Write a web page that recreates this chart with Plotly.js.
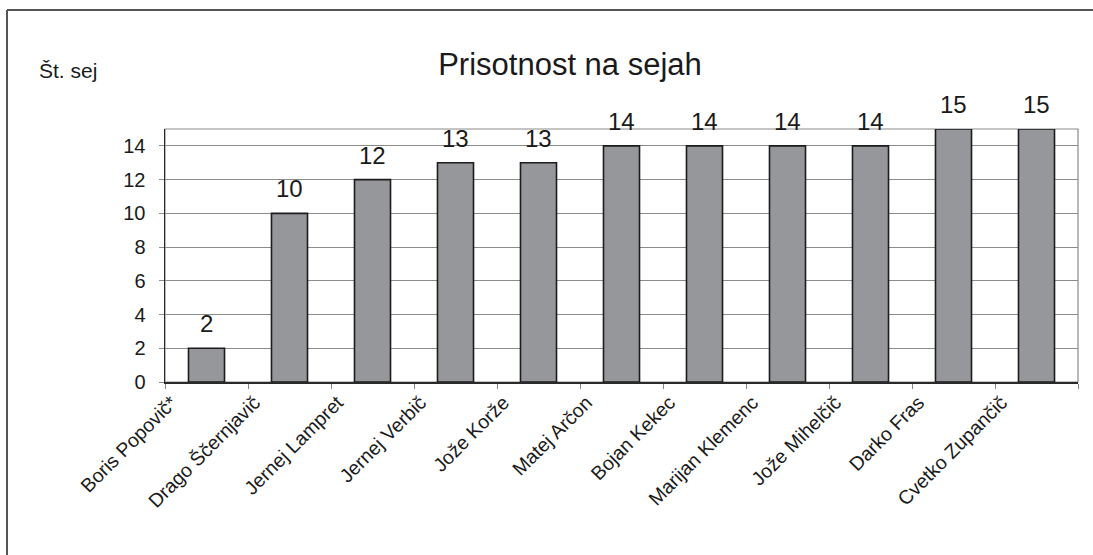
<!DOCTYPE html>
<html>
<head>
<meta charset="utf-8">
<script src="https://cdn.plot.ly/plotly-3.0.1.min.js"></script>
<style>
  html, body { margin: 0; padding: 0; background: #fff; }
  #chart { width: 1093px; height: 555px; }
</style>
</head>
<body>
<div id="chart"></div>
<script>
const members = [
  "Boris Popovič*", "Drago Ščernjavič", "Jernej Lampret", "Jernej Verbič",
  "Jože Korže", "Matej Arčon", "Bojan Kekec", "Marijan Klemenc",
  "Jože Mihelčič", "Darko Fras", "Cvetko Zupančič"
];
const sessions = [2, 10, 12, 13, 13, 14, 14, 14, 14, 15, 15];
const chartTitle = "Prisotnost na sejah";
const yAxisLabel = "Št. sej";
const yTicks = [0, 2, 4, 6, 8, 10, 12, 14];

const FONT = "Arial, 'Liberation Sans', sans-serif";

const trace = {
  type: "bar",
  x: members,
  y: sessions,
  marker: { color: "#96979b", line: { color: "#1c1c1c", width: 1.6 } },
  hoverinfo: "x+y"
};

const valueLabels = members.map((m, i) => ({
  x: m, y: sessions[i], xref: "x", yref: "y",
  text: String(sessions[i]), showarrow: false,
  yanchor: "bottom", yshift: 9,
  font: { family: FONT, size: 24, color: "#1a1a1a" }
}));

const layout = {
  width: 1093, height: 555,
  paper_bgcolor: "#fff", plot_bgcolor: "#fff",
  margin: { l: 165, r: 15, t: 129, b: 173 },
  font: { family: FONT, color: "#1a1a1a" },
  showlegend: false,
  bargap: 0.566,
  title: {
    text: chartTitle,
    font: { family: FONT, size: 31, color: "#1a1a1a" },
    x: 570 / 1093, xanchor: "center", xref: "container",
    y: 1 - 64 / 555, yanchor: "middle", yref: "container"
  },
  xaxis: {
    type: "category",
    tickson: "boundaries",
    ticks: "outside", ticklen: 5, tickcolor: "#888", tickwidth: 1,
    tickangle: -45,
    ticklabelshift: -35,
    ticklabelstandoff: 0,
    tickfont: { family: FONT, size: 19.5, color: "#1a1a1a" },
    showline: true, linecolor: "#2a2a2a", linewidth: 1.5,
    showgrid: false, zeroline: false
  },
  yaxis: {
    range: [0, 15],
    tickvals: yTicks,
    ticks: "outside", ticklen: 5, tickcolor: "#8c8c8c", tickwidth: 1,
    ticklabelstandoff: 9,
    tickfont: { family: FONT, size: 20, color: "#1a1a1a" },
    showline: true, linecolor: "#2a2a2a", linewidth: 1.5,
    showgrid: true, gridcolor: "#8c8c8c", gridwidth: 1,
    zeroline: false
  },
  shapes: [
    { type: "rect", xref: "paper", yref: "paper", x0: 0, x1: 1, y0: 0, y1: 1,
      line: { color: "#8c8c8c", width: 1.2 }, layer: "below" },
    { type: "line", xref: "paper", yref: "paper",
      x0: (7 - 165) / 913, x1: (1093 - 165) / 913,
      y0: (382 - 10) / 253, y1: (382 - 10) / 253,
      line: { color: "#555", width: 2 } },
    { type: "line", xref: "paper", yref: "paper",
      x0: (7 - 165) / 913, x1: (7 - 165) / 913,
      y0: (382 - 10) / 253, y1: (382 - 560) / 253,
      line: { color: "#555", width: 2 } }
  ],
  annotations: valueLabels.concat([
    { xref: "paper", yref: "paper",
      x: (37 - 165) / 913, y: (382 - 70) / 253,
      xanchor: "left", yanchor: "middle",
      text: yAxisLabel, showarrow: false,
      font: { family: FONT, size: 21, color: "#1a1a1a" } }
  ])
};

Plotly.newPlot("chart", [trace], layout, { displayModeBar: false, staticPlot: true });
</script>
</body>
</html>
